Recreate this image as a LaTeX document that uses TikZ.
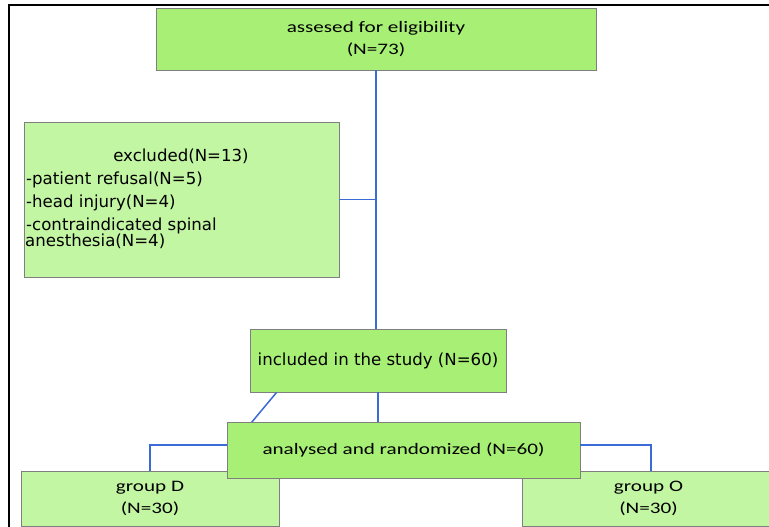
\documentclass[tikz,border=0pt]{standalone}
\usepackage{fontspec}
\usetikzlibrary{calc}
\newfontfamily\calib[FakeStretch=1.32]{Carlito}
\newfontfamily\dejav{DejaVu Sans}
\definecolor{greenA}{HTML}{A7F075}
\definecolor{greenB}{HTML}{C3F6A3}
\definecolor{bordergray}{HTML}{7F7F7F}
\definecolor{linkblue}{HTML}{3A6BD6}
\tikzset{
  box/.style={draw=bordergray, line width=0.9pt, inner sep=0pt, align=center},
  boxA/.style={box, fill=greenA},
  boxB/.style={box, fill=greenB},
  cfont/.style={font=\calib\fontsize{16}{22}\selectfont},
  dfont/.style={font=\dejav\fontsize{16.6}{22}\selectfont},
  link/.style={draw=linkblue, line width=1.5pt},
  ltext/.style={inner sep=0pt, anchor=base west, dfont}
}
\begin{document}
\begin{tikzpicture}[x=1pt,y=-1pt]
\useasboundingbox (0,0) rectangle (769,527);
\clip (0,0) rectangle (769,527);
% frame
\draw[black, line width=2pt] (8,5.5) -- (769,5.5);
\draw[black, line width=2pt] (9,5.5) -- (9,527);
% boxes
\node[boxA, cfont, minimum width=440pt, minimum height=62pt] (top) at (376,39)
  {assesed for eligibility\\(N=73)};
\node[boxB, minimum width=315pt, minimum height=155pt] (excluded) at (181.5,199.5) {};
\node[inner sep=0pt, anchor=base, dfont] (ex1) at (181,161.5) {excluded(N=13)};
\node[ltext] (ex2) at (26,184) {-patient refusal(N=5)};
\node[ltext] (ex3) at (26,207) {-head injury(N=4)};
\node[ltext] (ex4) at (26,230) {-contraindicated spinal};
\node[ltext] (ex5) at (25,246) {anesthesia(N=4)};
\node[boxA, dfont, minimum width=256pt, minimum height=63pt] (included) at (378,360.5)
  {included in the study (N=60)};
\node[boxB, cfont, minimum width=258pt, minimum height=55pt] (groupD) at (150,498.5)
  {group D\\(N=30)};
\node[boxB, cfont, minimum width=253pt, minimum height=55pt] (groupO) at (648.5,498.5)
  {group O\\(N=30)};
% connectors
\draw[link] (top.south) -- (top.south |- included.north);
\draw[link] (excluded.east) -- (excluded.east -| top.south);
\draw[link] (included.south) -- (included.south |- 0,422);
\draw[link] ($(included.south west)+(27,0)$) -- ($(included.south west)+(2,30)$);
\node[boxA, cfont, minimum width=353pt, minimum height=56pt] (analysed) at (403.5,450)
  {analysed and randomized (N=60)};
\draw[link] ([yshift=5pt]analysed.west) -| (groupD.north);
\draw[link] ([yshift=5pt]analysed.east) -| ([xshift=2.5pt]groupO.north);
\end{tikzpicture}
\end{document}
